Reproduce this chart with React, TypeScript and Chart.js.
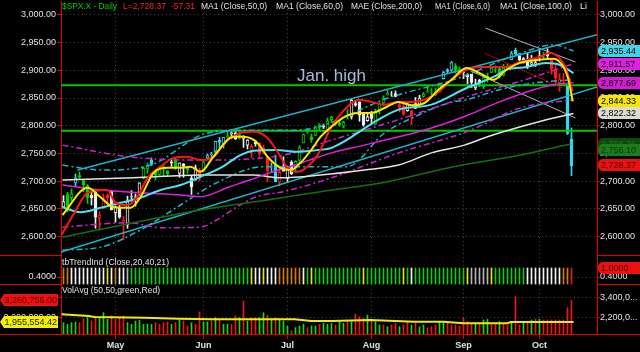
import React, { useEffect, useRef } from 'react';
import { Chart, registerables } from 'chart.js';

Chart.register(...registerables);

const FONT = '"Liberation Sans", Arial, Helvetica, sans-serif';

// ---------------- DATA ----------------
const opens = [
  2653, 2676, 2670, 2697, 2710, 2701, 2692, 2675, 2680, 2634,
  2651, 2675, 2682, 2643, 2651, 2628, 2621, 2671, 2671, 2678,
  2705, 2723, 2738, 2718, 2712, 2720, 2718, 2735, 2738, 2714,
  2731, 2724, 2705, 2702, 2720, 2718, 2742, 2748, 2754, 2774,
  2765, 2780, 2785, 2787, 2783, 2777, 2765, 2752, 2770, 2769,
  2760, 2742, 2723, 2729, 2698, 2727, 2705, 2734, 2724, 2738,
  2769, 2789, 2779, 2783, 2797, 2800, 2790, 2811, 2809, 2805,
  2799, 2820, 2817, 2840, 2843, 2821, 2809, 2821, 2803, 2829,
  2841, 2856, 2857, 2858, 2838, 2835, 2827, 2827, 2831, 2838,
  2853, 2861, 2860, 2860, 2862, 2885, 2901, 2900, 2908, 2898,
  2897, 2891, 2893, 2868, 2882, 2871, 2889, 2896, 2906, 2903,
  2891, 2907, 2919, 2936, 2926, 2921, 2917, 2911, 2910, 2926,
  2924, 2932, 2919, 2902, 2877, 2883, 2874, 2776,
];
const highs = [
  2674, 2680, 2686, 2713, 2717, 2703, 2694, 2682, 2683, 2645,
  2677, 2677, 2683, 2655, 2661, 2637, 2673, 2683, 2677, 2697,
  2726, 2733, 2742, 2719, 2727, 2729, 2719, 2739, 2742, 2733,
  2732, 2727, 2710, 2729, 2723, 2737, 2749, 2752, 2772, 2779,
  2779, 2790, 2789, 2791, 2789, 2782, 2775, 2766, 2774, 2769,
  2765, 2744, 2733, 2747, 2724, 2744, 2727, 2737, 2737, 2764,
  2785, 2795, 2785, 2799, 2804, 2803, 2814, 2817, 2810, 2812,
  2808, 2829, 2849, 2845, 2843, 2821, 2824, 2826, 2830, 2841,
  2854, 2864, 2862, 2863, 2842, 2843, 2843, 2828, 2851, 2855,
  2860, 2873, 2867, 2868, 2877, 2898, 2903, 2916, 2912, 2906,
  2900, 2894, 2893, 2884, 2884, 2892, 2895, 2906, 2908, 2904,
  2911, 2912, 2934, 2940, 2927, 2923, 2931, 2927, 2920, 2937,
  2932, 2939, 2919, 2910, 2894, 2894, 2874, 2796,
];
const lows = [
  2653, 2645, 2665, 2691, 2703, 2681, 2660, 2657, 2615, 2612,
  2651, 2659, 2648, 2626, 2633, 2594, 2615, 2664, 2655, 2674,
  2704, 2714, 2728, 2702, 2711, 2709, 2709, 2726, 2721, 2707,
  2707, 2714, 2676, 2702, 2700, 2718, 2740, 2740, 2748, 2760,
  2760, 2779, 2777, 2775, 2776, 2761, 2758, 2742, 2763, 2743,
  2750, 2699, 2715, 2699, 2692, 2718, 2698, 2712, 2716, 2733,
  2769, 2786, 2770, 2782, 2792, 2795, 2789, 2806, 2800, 2799,
  2796, 2812, 2812, 2835, 2808, 2799, 2808, 2804, 2802, 2821,
  2836, 2855, 2853, 2852, 2825, 2819, 2826, 2802, 2831, 2834,
  2851, 2860, 2856, 2854, 2861, 2884, 2894, 2898, 2895, 2893,
  2885, 2876, 2869, 2865, 2871, 2867, 2879, 2896, 2896, 2886,
  2890, 2903, 2919, 2927, 2913, 2913, 2903, 2909, 2907, 2917,
  2920, 2921, 2893, 2875, 2862, 2874, 2784, 2710,
];
const closes = [
  2663, 2656, 2677, 2706, 2708, 2693, 2670, 2670, 2635, 2639,
  2667, 2670, 2648, 2654, 2635, 2630, 2663, 2672, 2672, 2697,
  2723, 2728, 2730, 2711, 2722, 2720, 2713, 2733, 2725, 2733,
  2727, 2721, 2690, 2724, 2705, 2735, 2746, 2749, 2772, 2770,
  2779, 2782, 2787, 2776, 2782, 2780, 2774, 2763, 2767, 2749,
  2755, 2718, 2723, 2699, 2716, 2718, 2726, 2713, 2736, 2760,
  2784, 2793, 2775, 2798, 2801, 2798, 2809, 2815, 2804, 2802,
  2806, 2820, 2846, 2837, 2819, 2802, 2816, 2813, 2827, 2840,
  2850, 2858, 2857, 2853, 2833, 2821, 2839, 2818, 2840, 2850,
  2857, 2862, 2861, 2856, 2875, 2896, 2898, 2914, 2901, 2902,
  2896, 2888, 2878, 2872, 2877, 2887, 2888, 2904, 2905, 2888,
  2904, 2907, 2930, 2930, 2919, 2916, 2906, 2914, 2914, 2924,
  2923, 2926, 2902, 2886, 2884, 2881, 2786, 2728,
];
// candle colour codes: w white, g green, c cyan, r red
const candleCodes = [
  'w', 'g', 'g', 'c', 'g', 'g', 'g', 'w', 'w', 'r',
  'r', 'r', 'w', 'w', 'w', 'r', 'w', 'w', 'w', 'w',
  'g', 'g', 'c', 'g', 'g', 'g', 'g', 'w', 'g', 'w',
  'w', 'g', 'w', 'w', 'r', 'g', 'c', 'c', 'c', 'c',
  'c', 'g', 'w', 'w', 'g', 'w', 'w', 'r', 'w', 'r',
  'r', 'r', 'c', 'c', 'r', 'w', 'w', 'w', 'g', 'g',
  'g', 'g', 'g', 'g', 'g', 'w', 'g', 'g', 'g', 'g',
  'g', 'g', 'w', 'w', 'w', 'w', 'w', 'w', 'g', 'g',
  'g', 'g', 'w', 'w', 'r', 'r', 'w', 'r', 'w', 'w',
  'g', 'g', 'g', 'g', 'g', 'c', 'c', 'c', 'g', 'g',
  'w', 'w', 'w', 'w', 'w', 'g', 'g', 'g', 'g', 'g',
  'g', 'g', 'c', 'c', 'w', 'w', 'w', 'w', 'w', 'w',
  'g', 'w', 'r', 'r', 'r', 'r', 'c', 'c',
];
// tbTrendInd colour codes: o orange, w white, y yellow, g green, s silver, r red
const trendCodes = [
  'o', 'o', 'w', 'w', 'w', 'w', 'w', 'w', 'w', 'w',
  'w', 'y', 'w', 'o', 'w', 'w', 's', 'g', 'g', 'g',
  'g', 'g', 'g', 'g', 'g', 'g', 'g', 'g', 'g', 'g',
  'g', 'g', 'g', 'g', 'g', 'g', 'g', 'g', 'g', 'g',
  'g', 'g', 'g', 'g', 'g', 'g', 'g', 'y', 'w', 'w',
  'y', 'w', 'w', 'w', 'o', 'o', 'o', 'o', 'o', 'o',
  'w', 'g', 'y', 'g', 'g', 'g', 'g', 'g', 'g', 'g',
  'g', 'g', 'g', 'g', 'g', 'y', 'g', 'g', 'g', 'g',
  'g', 'g', 'g', 'g', 'g', 'y', 'g', 'w', 'g', 'g',
  'g', 'g', 'g', 'g', 'g', 'g', 'g', 'g', 'g', 'g',
  'g', 'y', 's', 's', 's', 's', 's', 'y', 'g', 'g',
  'g', 'g', 'g', 'g', 'g', 'g', 'w', 'w', 'w', 'w',
  'w', 'w', 'w', 'w', 'w', 'o', 'o', 'r',
];
const trendBarRange = [-0.067, 1.0];
// volume, millions
const volumes = [
  1.92, 1.82, 1.92, 1.96, 1.92, 2.16, 2.22, 2.02, 2.32, 2.22,
  2.52, 2.12, 2.32, 2.12, 2.22, 2.32, 1.92, 1.82, 2.02, 2.06,
  1.82, 1.82, 1.82, 1.92, 1.82, 1.92, 1.96, 1.82, 1.92, 2.06,
  2.02, 1.72, 1.92, 1.82, 2.56, 1.96, 1.96, 2.02, 2.22, 2.12,
  1.82, 1.82, 1.82, 2.32, 2.22, 3.22, 2.02, 2.22, 2.22, 2.22,
  2.52, 2.36, 2.12, 2.22, 2.12, 2.02, 1.72, 1.42, 1.62, 1.72,
  1.82, 1.62, 1.72, 1.72, 1.82, 1.88, 1.82, 1.88, 1.78, 1.98,
  1.88, 2.08, 1.98, 2.42, 2.28, 2.18, 2.38, 2.08, 1.98, 1.78,
  1.78, 1.68, 1.78, 1.88, 1.68, 1.78, 1.98, 1.78, 1.88, 1.68,
  1.78, 1.62, 1.68, 1.78, 1.98, 1.98, 1.88, 1.78, 1.78, 1.72,
  2.18, 1.98, 1.88, 1.88, 1.88, 2.08, 2.12, 1.88, 1.88, 1.98,
  1.88, 1.78, 1.88, 3.48, 1.78, 1.88, 1.98, 2.08, 2.12, 2.12,
  2.08, 2.08, 2.08, 2.08, 2.08, 2.08, 2.82, 3.26,
];
const volumeCodes = [
  'g', 'g', 'g', 'g', 'r', 'r', 'g', 'r', 'r', 'g',
  'g', 'g', 'r', 'r', 'r', 'r', 'g', 'g', 'g', 'g',
  'g', 'g', 'g', 'r', 'r', 'r', 'r', 'g', 'r', 'g',
  'r', 'r', 'g', 'r', 'r', 'g', 'g', 'r', 'g', 'r',
  'g', 'g', 'r', 'r', 'g', 'r', 'g', 'r', 'r', 'g',
  'g', 'r', 'g', 'r', 'g', 'g', 'g', 'r', 'g', 'g',
  'g', 'r', 'g', 'g', 'r', 'g', 'g', 'g', 'r', 'g',
  'g', 'r', 'g', 'r', 'r', 'r', 'g', 'r', 'g', 'g',
  'r', 'g', 'r', 'r', 'g', 'r', 'r', 'g', 'r', 'g',
  'g', 'r', 'r', 'r', 'g', 'g', 'r', 'r', 'r', 'r',
  'r', 'r', 'r', 'g', 'r', 'g', 'g', 'r', 'r', 'g',
  'r', 'r', 'g', 'r', 'r', 'g', 'r', 'g', 'r', 'g',
  'r', 'r', 'r', 'r', 'r', 'r', 'r', 'r',
];
const volumeAvg: [number, number][] = [
  [-0.5, 2.42], [6.25, 2.32], [7.75, 2.26], [20.25, 2.22], [28.75, 2.16], [37, 2.12],
  [57.75, 2.12], [62, 2.02], [67, 2.02], [76.75, 2.08], [87.5, 1.98], [95, 1.98],
  [100, 1.88], [111, 1.88], [111.75, 1.96], [127.5, 1.96],
];

// moving averages / envelopes, [day index, price]
const maYellow: [number, number][] = [
  [-0.25, 2639], [6, 2688], [9.25, 2671], [12.5, 2653], [16.75, 2652], [19.25, 2671], [22.5, 2715],
  [26, 2724], [29.25, 2724], [31.75, 2726], [34.25, 2717], [37.5, 2744], [42.5, 2780], [45, 2780],
  [48.5, 2769], [51, 2744], [54.25, 2724], [56.75, 2720], [59.25, 2733], [62.5, 2762], [64.25, 2780],
  [67, 2798], [70.25, 2816], [73.75, 2823], [77, 2823], [80.25, 2832], [83.75, 2843], [87, 2837],
  [90.25, 2841], [93.75, 2865], [97, 2883], [100.75, 2904], [104, 2895], [107.5, 2883], [110.75, 2901],
  [114, 2913], [119, 2919], [122.5, 2921], [125, 2906], [126.25, 2883], [127.3, 2844],
];
const maRed: [number, number][] = [
  [-0.5, 2603], [2.75, 2643], [6, 2679], [11, 2684], [13, 2661], [16, 2657], [18.5, 2672], [21, 2706],
  [24.25, 2726], [27.5, 2742], [31, 2744], [34.25, 2738], [37.5, 2744], [41, 2774], [44.25, 2787],
  [47.5, 2789], [51, 2778], [53.5, 2753], [56, 2724], [58.5, 2717], [61, 2726], [63.5, 2747], [67, 2798],
  [70.25, 2829], [73.75, 2847], [77, 2843], [80.25, 2838], [83.75, 2843], [87, 2843], [90.25, 2847],
  [93.75, 2861], [97, 2883], [100.75, 2901], [104, 2906], [107.5, 2906], [110.75, 2906], [114, 2915],
  [119, 2924], [121.5, 2931], [124, 2922], [125.75, 2901], [127.3, 2862],
];
const maCyan: [number, number][] = [
  [-0.25, 2653], [4.25, 2644], [9.25, 2652], [14.25, 2661], [19.25, 2670], [24.25, 2684], [29.25, 2693],
  [34.25, 2708], [39.25, 2724], [44.25, 2747], [47.5, 2755], [53.25, 2756], [58.25, 2753], [63.25, 2756],
  [67, 2760], [78.75, 2811], [83.75, 2829], [92, 2838], [100.75, 2868], [107.5, 2888], [110.75, 2901],
  [115.75, 2906], [120.75, 2913], [124, 2910], [127.5, 2895],
];
const maMagenta: [number, number][] = [
  [-0.25, 2693], [9.25, 2684], [19.25, 2679], [29.25, 2675], [34.25, 2672], [41.5, 2690], [46.5, 2702],
  [51.5, 2715], [56.5, 2726], [61.5, 2738], [67, 2751], [75.25, 2765], [83.75, 2780], [92, 2796],
  [100.75, 2818], [109, 2843], [117.5, 2865], [122.5, 2874], [127.5, 2878],
];
const maWhite: [number, number][] = [
  [-0.25, 2702], [17.5, 2706], [34.25, 2711], [47.5, 2711], [54.25, 2706], [64.25, 2711], [75.25, 2720],
  [83.75, 2729], [92, 2751], [100.25, 2765], [106, 2780], [114.25, 2798], [122.5, 2814], [127.5, 2822],
];
const maDarkGreen: [number, number][] = [
  [-0.25, 2599], [17.5, 2625], [34.25, 2648], [51, 2666], [64.25, 2681], [81, 2699], [97.5, 2726],
  [114.25, 2747], [126.75, 2767],
];
const envMagentaUpper: [number, number][] = [
  [-0.25, 2765], [16.25, 2744], [33.25, 2738], [55, 2747], [67, 2774], [83.75, 2811], [100.75, 2852],
  [116.75, 2886], [127.5, 2912],
];
const envMagentaLower: [number, number][] = [
  [-0.25, 2617], [16.25, 2625], [24.5, 2616], [34.25, 2617], [38.25, 2630], [43.25, 2653], [48.25, 2672],
  [55, 2681], [67, 2706], [83.75, 2751], [100.75, 2789], [114.25, 2832], [127.5, 2847],
];
const envCyanUpper: [number, number][] = [
  [-0.25, 2729], [9.5, 2720], [21.75, 2729], [36, 2787], [45.75, 2792], [58.25, 2792], [82, 2852],
  [98.75, 2886], [113.25, 2928], [122.5, 2946], [127.5, 2935],
];
const envCyanLower: [number, number][] = [
  [-0.25, 2576], [9.25, 2581], [19.25, 2612], [29.25, 2657], [38.25, 2697], [50, 2726], [70.75, 2726],
  [80.25, 2787], [87.75, 2816], [96.25, 2841], [100.75, 2847], [109, 2865], [117.5, 2877], [127.5, 2883],
];
const channelUpper: [number, number][] = [[3.5, 2720], [133.4, 2964]];
const channelLower: [number, number][] = [[-0.6, 2572], [133.4, 2870]];
const trendGray1: [number, number][] = [[105.5, 2976], [128, 2915]];
const trendGray2: [number, number][] = [[101.75, 2899], [128, 2814]];
const trendDarkRed: [number, number][] = [[105.25, 2931], [124.75, 2868]];
const janHigh = 2872.87;
const supportLevel = 2791;

const priceTicks = [2600, 2650, 2700, 2750, 2800, 2850, 2900, 2950, 3000];
const trendTicks = [0.4];
const volumeTicks = [2.2, 3.4];
const monthTickIdx = [13, 35, 56, 77, 100, 119];
const monthLabels = ['May', 'Jun', 'Jul', 'Aug', 'Sep', 'Oct'];

const lastClose = 2728.37;
const lastChange = -57.31;
const rightTagValues = [2935.44, 2911.57, 2877.69, 2844.33, 2822.32, 2766.76, 2756.1, 2728.37];
const rightTagBg = ['#3cd6e6', '#e21ee2', '#d41cd4', '#f6e600', '#dcdcd4', '#0b4a0b', '#1d7a1d', '#e81212'];
const rightTagFg = ['#000', '#000', '#000', '#000', '#000', '#1f7a1f', '#0b3a0b', '#5a0000'];
const lastVolume = 3.260756;
const volumeAvgLast = 1.95555442;

// ---------------- STYLE ----------------
const candleColor: Record<string, string> = { w: '#eeeeee', g: '#00d400', c: '#34d8f0', r: '#ff1a1a' };
const trendColor: Record<string, string> = { o: '#d0781c', w: '#f2f2f2', y: '#eee014', g: '#12c812', s: '#b4b4b4', r: '#e02010' };
const volColor: Record<string, string> = { g: '#14d814', r: '#f01414' };
const RED = '#e00000';
const GRID = '#444444';
const TXT = '#e2e2e2';

const fmtPrice = (v: number) => v.toLocaleString('en-US', { minimumFractionDigits: 2, maximumFractionDigits: 2 });

function lineDs(pts: [number, number][], color: string, width: number, dash: number[] = [], smooth = true, axis = 'y') {
  return {
    type: 'line',
    yAxisID: axis,
    data: pts.map(([x, y]) => ({ x, y })),
    borderColor: color,
    borderWidth: width,
    borderDash: dash,
    pointRadius: 0,
    fill: false,
    cubicInterpolationMode: smooth ? 'monotone' : 'default',
    tension: 0,
    order: 0,
  };
}

const overlay = {
  id: 'overlay',
  afterDraw(chart: any) {
    const { ctx, chartArea: a, scales: s } = chart;
    const W = chart.width;
    ctx.save();
    // panel separators in axis gutters
    ctx.strokeStyle = RED;
    ctx.lineWidth = 1;
    const seps = [Math.round(s.y.bottom) - 0.5, Math.round(s.yInd.bottom) - 0.5];
    for (const yy of seps) {
      ctx.beginPath();
      ctx.moveTo(0, yy); ctx.lineTo(a.left, yy);
      ctx.moveTo(a.right, yy); ctx.lineTo(W, yy);
      ctx.stroke();
    }
    const yb = Math.round(a.bottom) + 0.5;
    ctx.beginPath(); ctx.moveTo(0, yb); ctx.lineTo(W, yb); ctx.stroke();

    // header legend
    ctx.textBaseline = 'middle';
    ctx.textAlign = 'left';
    ctx.font = `9px ${FONT}`;
    const segs = [
      { t: '$SPX.X - Daily', x: 62, w: 55, c: '#00d000' },
      { t: `L=${fmtPrice(lastClose)}`, x: 123, w: 43, c: '#ff2020' },
      { t: lastChange.toFixed(2), x: 171, w: 24, c: '#ff2020' },
      { t: 'MA1 (Close,50,0)', x: 201, w: 66, c: TXT },
      { t: 'MA1 (Close,60,0)', x: 276, w: 67, c: TXT },
      { t: 'MAE (Close,200,0)', x: 351, w: 71, c: TXT },
      { t: 'MA1 (Close,6,0)', x: 435, w: 55, c: TXT },
      { t: 'MA1 (Close,100,0)', x: 500, w: 72, c: TXT },
      { t: 'Li', x: 580, w: 8, c: TXT },
    ];
    for (const g of segs) { ctx.fillStyle = g.c; ctx.fillText(g.t, g.x, 7, g.w); }
    ctx.fillStyle = TXT;
    ctx.fillText('tbTrendInd (Close,20,40,21)', 62, s.yInd.top + 7, 107);
    ctx.fillText('VolAvg (50,50,green,Red)', 62, s.yVol.top + 6, 98);

    // Jan. high label
    ctx.font = `17px ${FONT}`;
    ctx.fillStyle = '#a6bcda';
    ctx.fillText('Jan. high', 297, s.y.getPixelForValue(janHigh) - 9);

    // right price tags
    ctx.font = `9px ${FONT}`;
    rightTagValues.forEach((v, i) => {
      const y = Math.round(s.yR.getPixelForValue(v));
      ctx.fillStyle = rightTagBg[i];
      ctx.beginPath();
      (ctx as any).roundRect(a.right + 1, y - 6, W - a.right - 1, 12, [5, 0, 0, 5]);
      ctx.fill();
      ctx.fillStyle = rightTagFg[i];
      ctx.fillText(fmtPrice(v), a.right + 4, y + 0.5, 38);
    });
    // right indicator tag
    {
      const y = Math.round(s.yIndR.getPixelForValue(1.0));
      ctx.fillStyle = '#e81212';
      ctx.beginPath();
      (ctx as any).roundRect(a.right + 1, y - 6, W - a.right - 1, 12, [5, 0, 0, 5]);
      ctx.fill();
      ctx.fillStyle = '#5a0000';
      ctx.fillText('1.0000', a.right + 4, y + 0.5);
    }
    // left volume tags
    const leftTag = (v: number, bg: string, fg: string) => {
      const y = Math.round(s.yVol.getPixelForValue(v));
      ctx.fillStyle = bg;
      ctx.beginPath();
      ctx.moveTo(0, y);
      ctx.lineTo(4, y - 6);
      ctx.lineTo(a.left - 3, y - 6);
      ctx.lineTo(a.left - 3, y + 6);
      ctx.lineTo(4, y + 6);
      ctx.closePath();
      ctx.fill();
      ctx.fillStyle = fg;
      ctx.textAlign = 'right';
      ctx.fillText((v * 1e6).toLocaleString('en-US', { minimumFractionDigits: 2, maximumFractionDigits: 2 }), a.left - 4, y + 0.5, 54);
      ctx.textAlign = 'left';
    };
    leftTag(volumeAvgLast, '#f4f000', '#202000');
    leftTag(lastVolume, '#e81212', '#5a0000');
    ctx.restore();
  },
};

function buildConfig(): any {
  const n = closes.length;
  const idx = closes.map((_, i) => i);
  const cc = candleCodes.map((k) => candleColor[k]);

  const tickFont = { family: FONT, size: 9 };
  const noPad = (sc: any) => { sc.paddingTop = 0; sc.paddingBottom = 0; sc.paddingLeft = 0; sc.paddingRight = 0; };
  const leftAxis = (min: number, max: number, ticks: number[], weightStack: number, w: number, cb: (v: number) => string) => ({
    type: 'linear', axis: 'y', position: 'left', stack: 'L', stackWeight: weightStack, weight: w,
    min, max, beginAtZero: false,
    afterBuildTicks: (sc: any) => { sc.ticks = ticks.map((value) => ({ value })); },
    afterFit: (sc: any) => { sc.width = 61; noPad(sc); },
    ticks: { color: TXT, font: tickFont, padding: 1, autoSkip: false, callback: (v: any) => cb(Number(v)) },
    grid: { color: GRID, tickColor: RED, tickLength: 4, tickBorderDash: [] },
    border: { color: RED, width: 1, dash: [1, 3] },
  });
  const rightAxis = (min: number, max: number, ticks: number[], weightStack: number, w: number, cb: (v: number) => string) => ({
    type: 'linear', axis: 'y', position: 'right', stack: 'R', stackWeight: weightStack, weight: w,
    min, max, beginAtZero: false,
    afterBuildTicks: (sc: any) => { sc.ticks = ticks.map((value) => ({ value })); },
    afterFit: (sc: any) => { sc.width = 43; noPad(sc); },
    ticks: { color: TXT, font: tickFont, padding: 0, autoSkip: false, callback: (v: any) => cb(Number(v)) },
    grid: { drawOnChartArea: false, tickColor: RED, tickLength: 3 },
    border: { color: RED, width: 1 },
  });
  const volL = (v: number) => (v * 1e6).toLocaleString('en-US', { minimumFractionDigits: 2, maximumFractionDigits: 2 });
  const volR = (v: number) => Math.round(v * 1e6).toLocaleString('en-US').slice(0, 7) + '...';

  const datasets: any[] = [
    lineDs(maYellow, '#fbe600', 2),
    lineDs(maRed, '#ff1414', 2),
    lineDs(maCyan, '#4ee4f4', 2),
    lineDs(maMagenta, '#e020e0', 1.5),
    lineDs(maWhite, '#e4e4e4', 1.5),
    lineDs(maDarkGreen, '#127012', 1.5),
    lineDs(envMagentaUpper, '#d020d0', 1.5, [6, 3, 2, 3]),
    lineDs(envMagentaLower, '#d020d0', 1.5, [6, 3, 2, 3]),
    lineDs(envCyanUpper, '#1cb4c8', 1.5, [6, 3, 2, 3]),
    lineDs(envCyanLower, '#1cb4c8', 1.5, [6, 3, 2, 3]),
    lineDs(channelUpper, '#1cb4c8', 1.5, [], false),
    lineDs(channelLower, '#1cb4c8', 1.5, [], false),
    lineDs(trendGray1, '#b4b4b4', 1, [], false),
    lineDs(trendGray2, '#b4b4b4', 1, [], false),
    lineDs(trendDarkRed, '#b00000', 1, [], false),
    lineDs([[-0.625, janHigh], [133.375, janHigh]], '#00c800', 2, [], false),
    lineDs([[-0.625, supportLevel], [133.375, supportLevel]], '#00c800', 2, [], false),
    { ...lineDs(volumeAvg, '#ecec10', 2, [], false, 'yVol') },
    {
      type: 'bar', yAxisID: 'y', grouped: false, order: 4, barThickness: 3,
      data: idx.map((i) => ({ x: i, y: [opens[i], closes[i]] })),
      backgroundColor: idx.map((i) => (closes[i] > opens[i] ? '#000000' : cc[i])),
      borderColor: cc, borderWidth: 1, borderSkipped: false,
    },
    {
      type: 'bar', yAxisID: 'y', grouped: false, order: 5, barThickness: 1,
      data: idx.map((i) => ({ x: i, y: [lows[i], highs[i]] })),
      backgroundColor: cc, borderWidth: 0,
    },
    {
      type: 'bar', yAxisID: 'yInd', grouped: false, order: 3, barThickness: 1,
      data: idx.map((i) => ({ x: i, y: [trendBarRange[0], trendBarRange[1]] })),
      backgroundColor: trendCodes.map((k) => trendColor[k]), borderWidth: 0,
    },
    {
      type: 'bar', yAxisID: 'yVol', grouped: false, order: 3, barThickness: 1,
      data: idx.map((i) => ({ x: i, y: volumes[i] })),
      backgroundColor: volumeCodes.map((k) => volColor[k]), borderWidth: 0,
    },
  ];

  return {
    type: 'bar',
    data: { datasets },
    plugins: [overlay],
    options: {
      animation: false,
      responsive: false,
      maintainAspectRatio: false,
      events: [],
      layout: { padding: { top: 1, left: 0, right: 0, bottom: 0 } },
      plugins: { legend: { display: false }, tooltip: { enabled: false }, title: { display: false } },
      scales: {
        x: {
          type: 'linear', min: -0.625, max: n + 5.375, offset: false,
          afterBuildTicks: (sc: any) => { sc.ticks = monthTickIdx.map((value) => ({ value })); },
          afterFit: (sc: any) => { sc.height = 18; noPad(sc); },
          ticks: {
            color: TXT, font: { family: FONT, size: 9, weight: 'bold' }, padding: 1, maxRotation: 0, autoSkip: false,
            callback: (v: any) => { const k = monthTickIdx.indexOf(Number(v)); return k >= 0 ? monthLabels[k] : ''; },
          },
          grid: { color: GRID, offset: false, tickColor: RED, tickLength: 5, tickBorderDash: [] },
          border: { color: RED, width: 1, dash: [1, 3] },
        },
        y: leftAxis(2565, 3025, priceTicks, 255, 3, fmtPrice),
        yInd: leftAxis(-0.133, 1.8, trendTicks, 29, 2, (v) => v.toFixed(4)),
        yVol: leftAxis(1.24, 4.18, volumeTicks, 49, 1, volL),
        yR: rightAxis(2565, 3025, priceTicks, 255, 1, fmtPrice),
        yIndR: rightAxis(-0.133, 1.8, trendTicks, 29, 2, (v) => v.toFixed(4)),
        yVolR: rightAxis(1.24, 4.18, volumeTicks, 49, 3, volR),
      },
    },
  };
}

export default function App() {
  const ref = useRef<HTMLCanvasElement>(null);
  useEffect(() => {
    document.body.style.margin = '0';
    document.body.style.background = '#000';
    const c = ref.current;
    if (!c) return;
    const chart = new Chart(c, buildConfig());
    return () => chart.destroy();
  }, []);
  return (
    <div style={{ position: 'absolute', left: 0, top: 0, width: 640, height: 352, background: '#000' }}>
      <canvas ref={ref} width={640} height={352} style={{ display: 'block', width: 640, height: 352 }} />
    </div>
  );
}
